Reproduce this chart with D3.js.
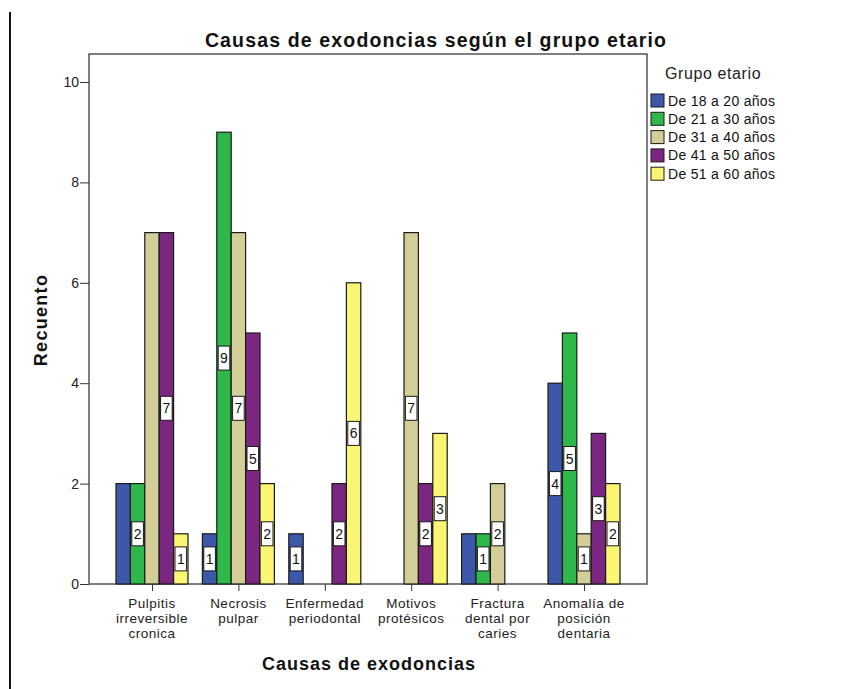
<!DOCTYPE html>
<html>
<head>
<meta charset="utf-8">
<script src="https://cdn.jsdelivr.net/npm/d3@7"></script>
<style>
  html, body { margin: 0; padding: 0; background: #fff; }
  svg { display: block; font-family: "Liberation Sans", Arial, sans-serif; }
</style>
</head>
<body>
<svg id="chart" width="848" height="689"></svg>
<script>
// Causes of tooth extraction, counted by age group
const categories = [
  ["Pulpitis", "irreversible", "cronica"],
  ["Necrosis", "pulpar"],
  ["Enfermedad", "periodontal"],
  ["Motivos", "protésicos"],
  ["Fractura", "dental por", "caries"],
  ["Anomalía de", "posición", "dentaria"]
];
const groups = ["De 18 a 20 años", "De 21 a 30 años", "De 31 a 40 años", "De 41 a 50 años", "De 51 a 60 años"];
const colors = ["#3d58ab", "#2fb84a", "#d3ce98", "#7b2680", "#faf673"];
// counts[g][c]: group g, cause c
const counts = [
  [2, 1, 1, 0, 1, 4],
  [2, 9, 0, 0, 1, 5],
  [7, 7, 0, 7, 2, 1],
  [7, 5, 2, 2, 0, 3],
  [1, 2, 6, 3, 0, 2]
];
// value boxes that are drawn (crowded neighbours are left unlabelled)
const labelShown = [
  [0, 1, 1, 0, 0, 1],
  [1, 1, 0, 0, 1, 1],
  [0, 1, 0, 1, 1, 1],
  [1, 1, 1, 1, 0, 1],
  [1, 1, 1, 1, 0, 1]
];
const yTicks = [0, 2, 4, 6, 8, 10];

const svg = d3.select("#chart");
const plotL = 89, plotR = 647, plotT = 54, plotB = 584;

// page margin rule
svg.append("line").attr("x1", 10).attr("x2", 10).attr("y1", 12).attr("y2", 689)
  .attr("stroke", "#111").attr("stroke-width", 2);

const x = d3.scalePoint().domain(d3.range(categories.length)).range([plotL, plotR]).padding(0.729);
const groupW = 72;
const xi = d3.scaleBand().domain(d3.range(groups.length)).range([-groupW / 2, groupW / 2]).padding(0);
const y = d3.scaleLinear().domain([0, 10]).range([plotB, plotB - 10 * 50.2]);

// plot frame
svg.append("rect").attr("x", plotL).attr("y", plotT).attr("width", plotR - plotL).attr("height", plotB - plotT)
  .attr("fill", "none").attr("stroke", "#555").attr("stroke-width", 1.5);

// bars
const bars = [];
groups.forEach((g, gi) => {
  categories.forEach((c, ci) => {
    const v = counts[gi][ci];
    if (v > 0) bars.push({ gi, ci, v, shown: labelShown[gi][ci] === 1 });
  });
});
svg.append("g").selectAll("rect").data(bars).join("rect")
  .attr("x", d => x(d.ci) + xi(d.gi))
  .attr("y", d => y(d.v))
  .attr("width", xi.bandwidth())
  .attr("height", d => y(0) - y(d.v))
  .attr("fill", d => colors[d.gi])
  .attr("stroke", "#1a1a1a").attr("stroke-width", 1.2);

// value boxes
const lab = svg.append("g").selectAll("g").data(bars.filter(d => d.shown)).join("g")
  .attr("transform", d => `translate(${x(d.ci) + xi(d.gi) + xi.bandwidth() / 2},${y(d.v / 2)})`);
lab.append("rect").attr("x", -5.8).attr("y", -12).attr("width", 11.6).attr("height", 24)
  .attr("fill", "#fff").attr("stroke", "#1a1a1a").attr("stroke-width", 1);
lab.append("text").attr("text-anchor", "middle").attr("dy", "0.36em")
  .attr("font-size", 14).attr("fill", "#111").text(d => d.v);

// y axis
const yAxis = svg.append("g").attr("transform", `translate(${plotL},0)`)
  .call(d3.axisLeft(y).tickValues(yTicks).tickSize(9).tickPadding(1));
yAxis.select(".domain").remove();
yAxis.selectAll("line").attr("stroke", "#333");
yAxis.selectAll("text").attr("font-size", 14).attr("fill", "#222").attr("font-family", "Liberation Sans, Arial, sans-serif");

// x axis ticks and labels
const xAxis = svg.append("g").attr("transform", `translate(0,${plotB})`)
  .call(d3.axisBottom(x).tickSize(7).tickFormat(""));
xAxis.select(".domain").remove();
xAxis.selectAll("line").attr("stroke", "#333");
const catText = svg.append("g").selectAll("text").data(categories).join("text")
  .attr("x", (d, i) => x(i)).attr("y", 608)
  .attr("text-anchor", "middle").attr("font-size", 13.5).attr("letter-spacing", 0.5).attr("fill", "#222");
catText.selectAll("tspan").data(d => d).join("tspan")
  .attr("x", function () { return d3.select(this.parentNode).attr("x"); })
  .attr("dy", (d, i) => i === 0 ? 0 : 15).text(d => d);

// titles
svg.append("text").attr("x", 436).attr("y", 47).attr("text-anchor", "middle")
  .attr("font-size", 19.5).attr("letter-spacing", 1.15).attr("font-weight", "bold").attr("fill", "#111")
  .text("Causas de exodoncias según el grupo etario");
svg.append("text").attr("x", 369).attr("y", 670).attr("text-anchor", "middle")
  .attr("font-size", 18).attr("letter-spacing", 1).attr("font-weight", "bold").attr("fill", "#111")
  .text("Causas de exodoncias");
svg.append("text").attr("transform", "translate(47,320) rotate(-90)").attr("text-anchor", "middle")
  .attr("font-size", 18).attr("letter-spacing", 1.3).attr("font-weight", "bold").attr("fill", "#111")
  .text("Recuento");

// legend
const leg = svg.append("g");
leg.append("text").attr("x", 665).attr("y", 79).attr("font-size", 16).attr("letter-spacing", 0.6)
  .attr("fill", "#222").text("Grupo etario");
const items = leg.selectAll("g").data(groups).join("g")
  .attr("transform", (d, i) => `translate(651,${94 + i * 18.3})`);
items.append("rect").attr("width", 13).attr("height", 13)
  .attr("fill", (d, i) => colors[i]).attr("stroke", "#1a1a1a").attr("stroke-width", 1);
items.append("text").attr("x", 17).attr("y", 11.5).attr("font-size", 14).attr("letter-spacing", 0.3)
  .attr("fill", "#111").text(d => d);
</script>
</body>
</html>
